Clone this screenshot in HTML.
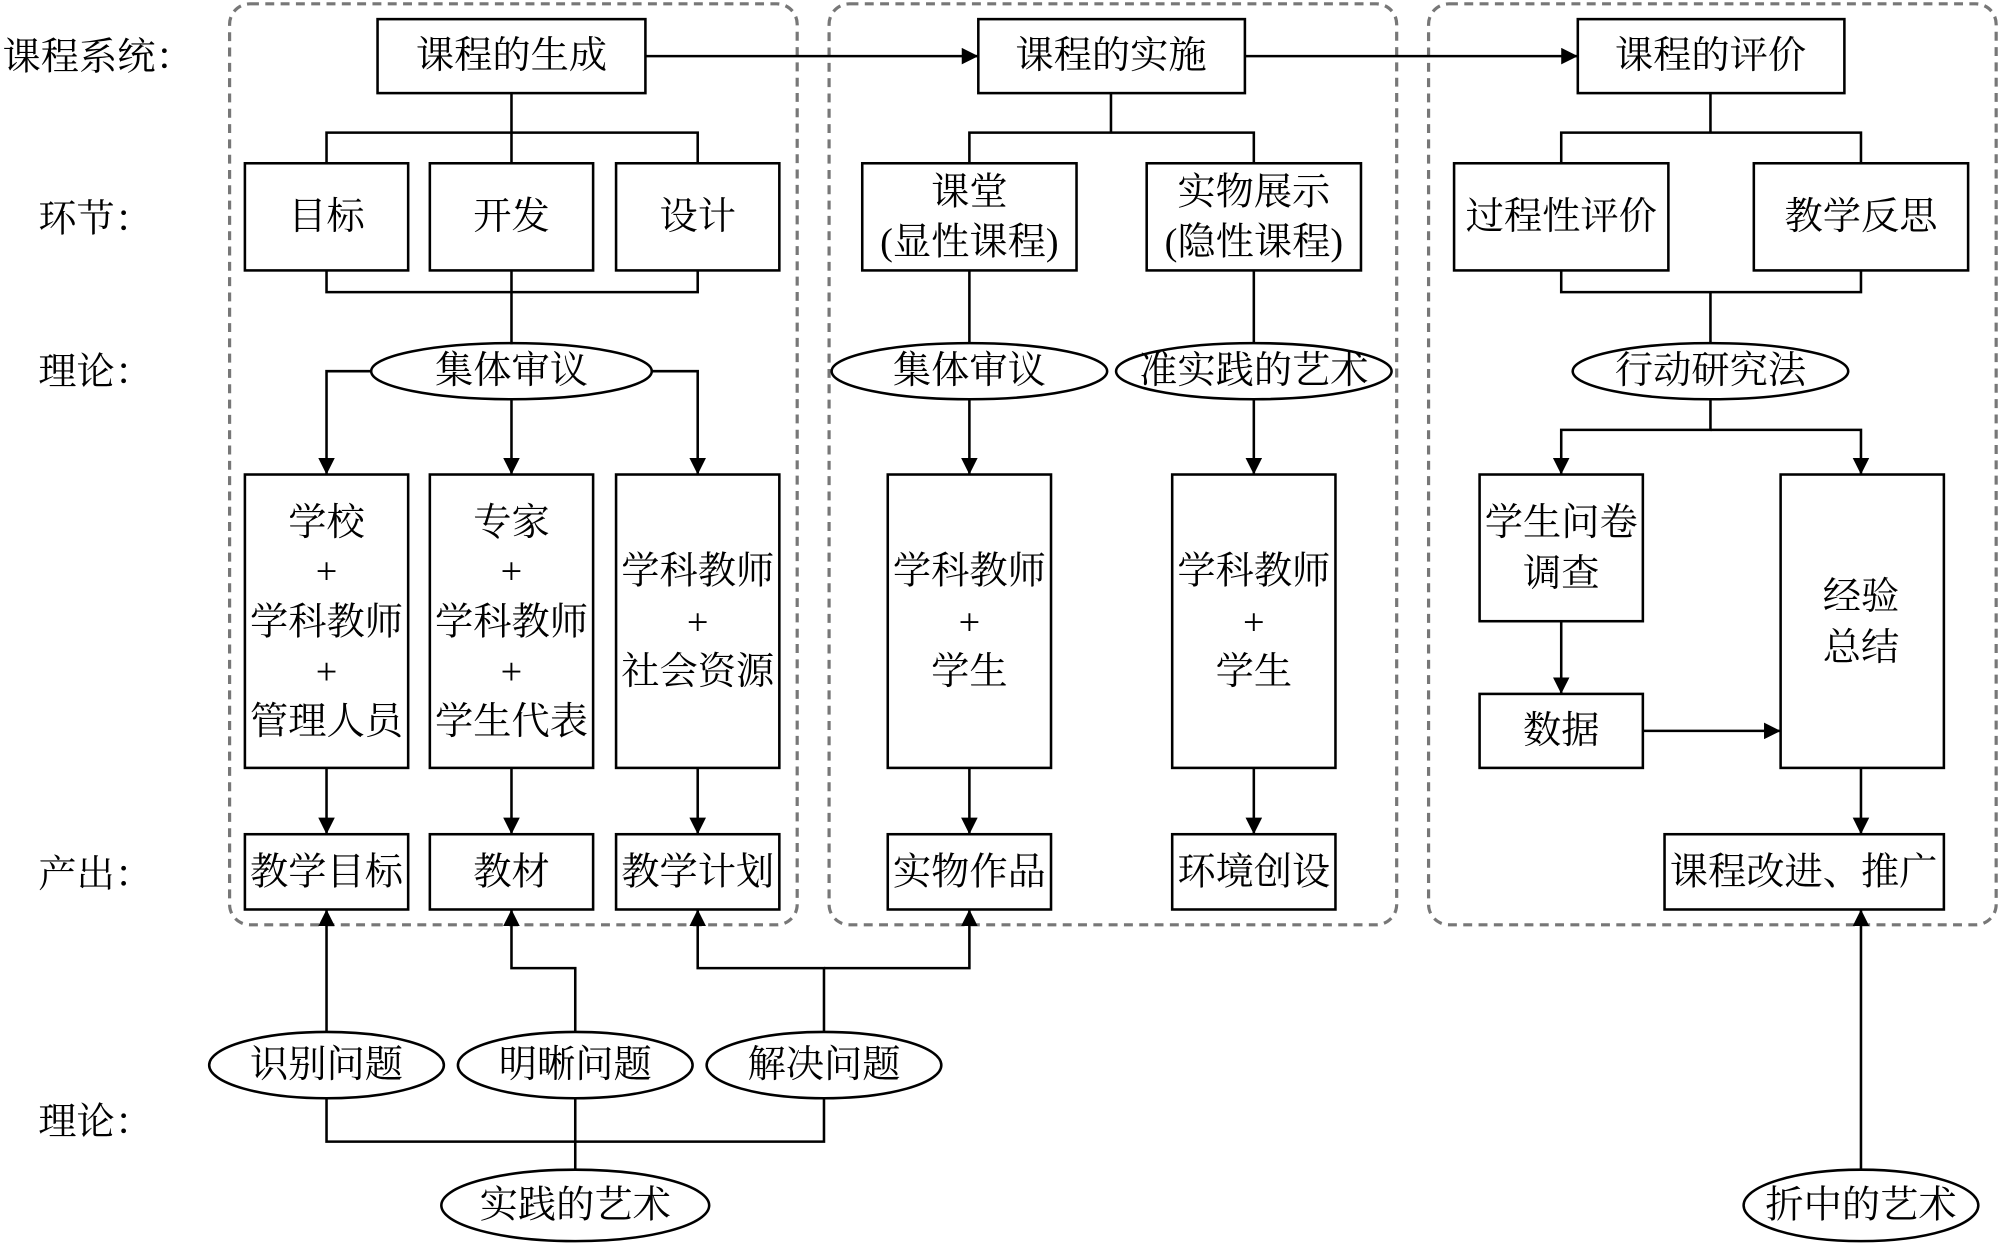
<!DOCTYPE html>
<html><head><meta charset="utf-8"><style>
html,body{margin:0;padding:0;background:#fff;}
svg{display:block;}
text{font-family:"Liberation Serif","Noto Serif CJK SC","Noto Sans CJK SC",serif;font-size:30px;fill:#000;text-anchor:middle;dominant-baseline:central;}
.l{text-anchor:start;}
</style></head><body>
<svg width="2000" height="1247" viewBox="0 0 1568 977.6" preserveAspectRatio="none" xmlns="http://www.w3.org/2000/svg">
<defs><marker id="a" viewBox="0 0 10 10" refX="10" refY="5" markerWidth="13" markerHeight="13" markerUnits="userSpaceOnUse" orient="auto"><path d="M0,0L10,5L0,10z" fill="#000"/></marker></defs>
<g fill="none" stroke="#777" stroke-width="2.5" stroke-dasharray="7,5">
<rect x="180" y="3" width="445" height="722" rx="16"/>
<rect x="650" y="3" width="445" height="722" rx="16"/>
<rect x="1120" y="3" width="445" height="722" rx="16"/>
</g>
<g class="lab">
<text class="l" x="2" y="45">课程系统：</text>
<text class="l" x="30" y="172">环节：</text>
<text class="l" x="30" y="292">理论：</text>
<text class="l" x="30" y="686">产出：</text>
<text class="l" x="30" y="880">理论：</text>
</g>
<g fill="#fff" stroke="#000" stroke-width="2">
<rect x="296" y="15" width="210" height="58"/><rect x="767" y="15" width="209" height="58"/><rect x="1237" y="15" width="209" height="58"/>
<rect x="192" y="128" width="128" height="84"/><rect x="337" y="128" width="128" height="84"/><rect x="483" y="128" width="128" height="84"/>
<rect x="676" y="128" width="168" height="84"/><rect x="899" y="128" width="168" height="84"/>
<rect x="1140" y="128" width="168" height="84"/><rect x="1375" y="128" width="168" height="84"/>
<rect x="192" y="372" width="128" height="230"/><rect x="337" y="372" width="128" height="230"/><rect x="483" y="372" width="128" height="230"/>
<rect x="696" y="372" width="128" height="230"/><rect x="919" y="372" width="128" height="230"/>
<rect x="1160" y="372" width="128" height="115"/><rect x="1160" y="544" width="128" height="58"/><rect x="1396" y="372" width="128" height="230"/>
<rect x="192" y="654" width="128" height="59"/><rect x="337" y="654" width="128" height="59"/><rect x="483" y="654" width="128" height="59"/>
<rect x="696" y="654" width="128" height="59"/><rect x="919" y="654" width="128" height="59"/><rect x="1305" y="654" width="219" height="59"/>
<ellipse cx="401" cy="291" rx="110" ry="22"/><ellipse cx="760" cy="291" rx="108" ry="22"/><ellipse cx="983" cy="291" rx="108" ry="22"/><ellipse cx="1341" cy="291" rx="108" ry="22"/>
<ellipse cx="256" cy="835" rx="92" ry="26"/><ellipse cx="451" cy="835" rx="92" ry="26"/><ellipse cx="646" cy="835" rx="92" ry="26"/>
<ellipse cx="451" cy="945" rx="105" ry="28"/><ellipse cx="1459" cy="945" rx="92" ry="28"/>
</g>
<g fill="none" stroke="#000" stroke-width="2">
<path d="M506,44H767" marker-end="url(#a)"/><path d="M976,44H1237" marker-end="url(#a)"/>
<path d="M401,73V104M256,128V104H547V128M401,104V128"/>
<path d="M256,212V229H547V212M401,212V270"/>
<path d="M291,291H256V372" marker-end="url(#a)"/><path d="M511,291H547V372" marker-end="url(#a)"/><path d="M401,313V372" marker-end="url(#a)"/>
<path d="M256,602V654" marker-end="url(#a)"/><path d="M401,602V654" marker-end="url(#a)"/><path d="M547,602V654" marker-end="url(#a)"/>
<path d="M871,73V104M760,128V104H983V128"/>
<path d="M760,212V269M983,212V269"/>
<path d="M760,313V372" marker-end="url(#a)"/><path d="M983,313V372" marker-end="url(#a)"/>
<path d="M760,602V654" marker-end="url(#a)"/><path d="M983,602V654" marker-end="url(#a)"/>
<path d="M1341,73V104M1224,128V104H1459V128"/>
<path d="M1224,212V229H1459V212M1341,229V269"/>
<path d="M1341,313V337H1224V372" marker-end="url(#a)"/><path d="M1341,337H1459V372" marker-end="url(#a)"/>
<path d="M1224,487V544" marker-end="url(#a)"/><path d="M1288,573H1396" marker-end="url(#a)"/><path d="M1459,602V654" marker-end="url(#a)"/>
<path d="M256,809V713" marker-end="url(#a)"/>
<path d="M451,809V759H401V713" marker-end="url(#a)"/>
<path d="M646,809V759H547V713" marker-end="url(#a)"/><path d="M646,759H760V713" marker-end="url(#a)"/>
<path d="M256,861V895H646V861M451,861V917"/>
<path d="M1459,917V713" marker-end="url(#a)"/>
</g>
<g>
<text x="401" y="44">课程的生成</text><text x="871" y="44">课程的实施</text><text x="1341" y="44">课程的评价</text>
<text x="256" y="170">目标</text><text x="401" y="170">开发</text><text x="547" y="170">设计</text>
<text x="760" y="151">课堂</text><text x="760" y="190">(显性课程)</text>
<text x="983" y="151">实物展示</text><text x="983" y="190">(隐性课程)</text>
<text x="1224" y="170">过程性评价</text><text x="1459" y="170">教学反思</text>
<text x="401" y="291">集体审议</text><text x="760" y="291">集体审议</text><text x="983" y="291">准实践的艺术</text><text x="1341" y="291">行动研究法</text>
<text x="256" y="410">学校</text><text x="256" y="448">+</text><text x="256" y="488">学科教师</text><text x="256" y="527">+</text><text x="256" y="566">管理人员</text>
<text x="401" y="410">专家</text><text x="401" y="448">+</text><text x="401" y="488">学科教师</text><text x="401" y="527">+</text><text x="401" y="566">学生代表</text>
<text x="547" y="448">学科教师</text><text x="547" y="488">+</text><text x="547" y="527">社会资源</text>
<text x="760" y="448">学科教师</text><text x="760" y="488">+</text><text x="760" y="527">学生</text>
<text x="983" y="448">学科教师</text><text x="983" y="488">+</text><text x="983" y="527">学生</text>
<text x="1224" y="410">学生问卷</text><text x="1224" y="450">调查</text>
<text x="1224" y="573">数据</text>
<text x="1459" y="468">经验</text><text x="1459" y="508">总结</text>
<text x="256" y="684">教学目标</text><text x="401" y="684">教材</text><text x="547" y="684">教学计划</text>
<text x="760" y="684">实物作品</text><text x="983" y="684">环境创设</text><text x="1414" y="684">课程改进、推广</text>
<text x="256" y="835">识别问题</text><text x="451" y="835">明晰问题</text><text x="646" y="835">解决问题</text>
<text x="451" y="945">实践的艺术</text><text x="1459" y="945">折中的艺术</text>
</g>
</svg>
</body></html>
